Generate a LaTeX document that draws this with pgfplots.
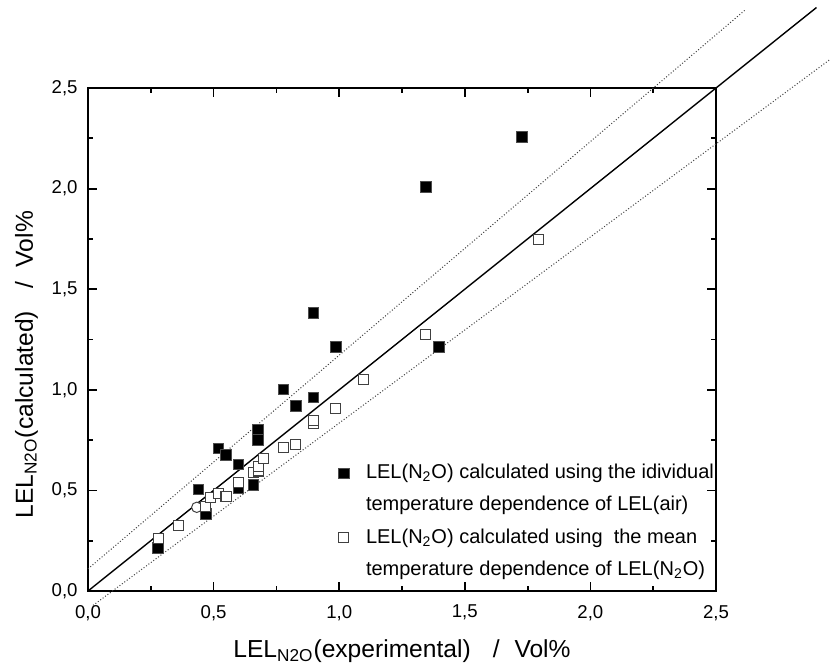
\documentclass[border=0pt]{standalone}
\usepackage{pgfplots}
\pgfplotsset{compat=1.18}
\usepackage{fontspec}
\setmainfont{Liberation Sans}
\begin{document}
\begin{tikzpicture}
\begin{axis}[
  name=ax,
  width=314pt, height=251.5pt, scale only axis,
  xmin=0, xmax=2.5, ymin=0, ymax=2.5,
  clip=false,
  axis line style={line width=0.9pt},
  tick align=inside,
  major tick length=4.7pt, minor tick length=2.5pt,
  every tick/.style={line width=0.9pt, black},
  xtick={0,0.5,...,2.5}, ytick={0,0.5,...,2.5},
  minor tick num=1,
  /pgf/number format/.cd, use comma, fixed, fixed zerofill, precision=1, assume math mode=true,
  /pgfplots/.cd,
  tick label style={font=\fontsize{9.3}{11}\selectfont},
  yticklabel style={xshift=-1.7pt},
  xticklabel style={yshift=-3.5pt},
  label style={font=\fontsize{12.3}{14}\selectfont},
  xlabel={LEL\textsubscript{N2O}(experimental)\hspace{0.9em}/\hspace{0.6em}Vol\%},
  ylabel={LEL\textsubscript{N2O}(calculated)\hspace{0.9em}/\hspace{0.6em}Vol\%},
  xlabel style={yshift=-3pt},
  ylabel style={at={(ticklabel cs:0.45)}},
  legend cell align=left,
  legend style={draw=none, fill=none, inner sep=0pt,
    at={(rel axis cs:0.379,0.012)}, anchor=south west,
    font=\fontsize{10}{12}\selectfont, row sep=2pt, column sep=6.35pt,
    nodes={text height=7.5pt, text depth=2.2pt, inner sep=2.25pt}},
]
\addplot[forget plot, black, line width=0.7pt] coordinates {(0,0) (2.9,2.9)};
\addplot[forget plot, black!75, line width=0.5pt, densely dotted] coordinates {(0,0.11) (2.62,2.892)};
\addplot[forget plot, black!75, line width=0.5pt, densely dotted] coordinates {(0.02,-0.0715) (2.954,2.642)};

\addplot[only marks, mark=square*, mark size=2.67pt,
  mark options={fill=black, draw=black!70, line width=0.3pt}] coordinates {
  (0.279,0.214) (0.439,0.505) (0.470,0.385) (0.519,0.709) (0.549,0.676)
  (0.598,0.630) (0.598,0.510) (0.658,0.527) (0.676,0.800) (0.676,0.752)
  (0.778,1.002) (0.828,0.921) (0.897,0.963) (0.897,1.383) (0.987,1.214)
  (1.345,2.010) (1.397,1.214) (1.726,2.258)};
\addlegendentry{LEL(N\textsubscript{2}O) calculated using the idividual}
\addlegendimage{empty legend}
\addlegendentry{temperature dependence of LEL(air)}

\addplot[forget plot, only marks, mark=*, mark size=2.6pt,
  mark options={fill=white, draw=black!75, line width=0.5pt}] coordinates {(0.433,0.416)};

\addplot[only marks, mark=square*, mark size=2.5pt,
  mark options={fill=white, draw=black!75, line width=0.5pt}] coordinates {
  (0.279,0.259) (0.360,0.328) (0.466,0.422) (0.486,0.466) (0.519,0.486)
  (0.548,0.469) (0.550,0.472) (0.598,0.540) (0.658,0.588) (0.678,0.593)
  (0.680,0.600) (0.678,0.621) (0.698,0.659) (0.778,0.714) (0.828,0.726)
  (0.897,0.833) (0.897,0.846) (0.987,0.908) (1.096,1.049) (1.345,1.276)
  (1.795,1.745)};
\addlegendentry{LEL(N\textsubscript{2}O) calculated using~ the mean}
\addlegendimage{empty legend}
\addlegendentry{temperature dependence of LEL(N\textsubscript{2}O)}
\end{axis}
\pgfresetboundingbox
\path ([shift={(-44pt,-37.5pt)}]ax.south west) rectangle ([shift={(57pt,44pt)}]ax.north east);
\end{tikzpicture}
\end{document}
